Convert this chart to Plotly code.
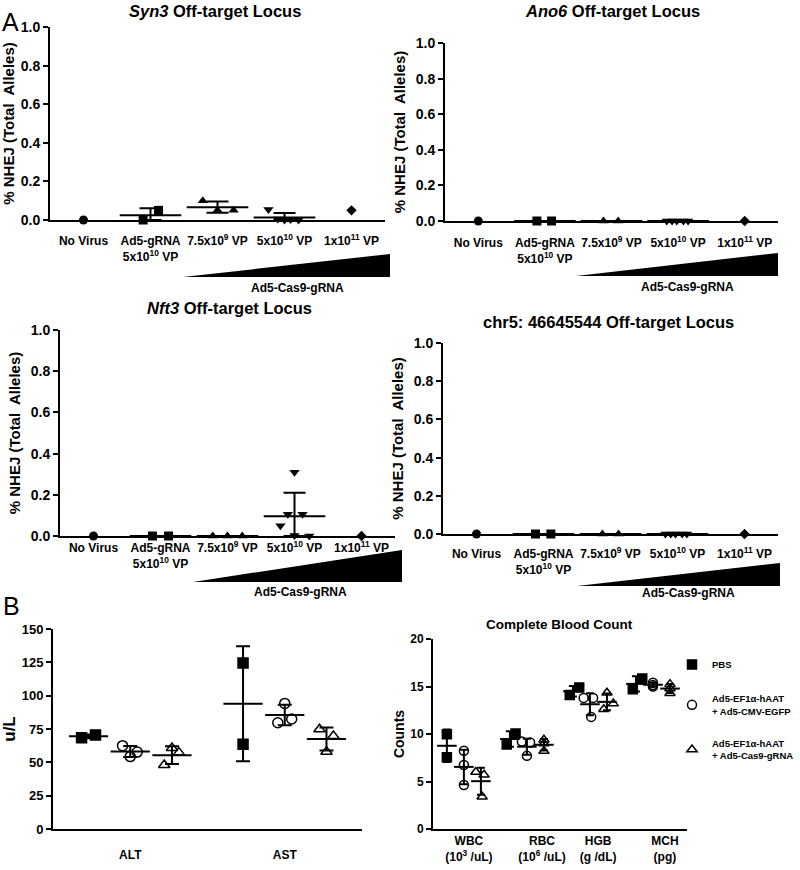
"""
Figure : NHEJ aux loci hors-cible (A) et biochimie / numération sanguine (B).
"""

import plotly.graph_objects as go
import numpy as np

W, H = 800, 870
FONT = "Liberation Sans, Arial, sans-serif"

# ---------------- Panneau A : % NHEJ ----------------
CATS_A = [
    "No Virus",
    "Ad5-gRNA<br>5x10<sup>10</sup> VP",
    "7.5x10<sup>9</sup> VP",
    "5x10<sup>10</sup> VP",
    "1x10<sup>11</sup> VP",
]
SYMB_A = ["circle", "square", "triangle-up", "triangle-down", "diamond"]

SYN3 = [[0.0], [0.0, 0.05], [0.10, 0.05, 0.05], [0.055, 0.005, 0.0, 0.003, 0.0], [0.05]]
ANO6 = [[0.0], [0.0, 0.0], [0.0, 0.0], [0.0, 0.0, 0.0, 0.0, 0.0], [0.0]]
NFT3 = [[0.0], [0.0, 0.0], [0.0, 0.0, 0.0], [0.31, 0.105, 0.105, 0.05, 0.003, 0.0], [0.0]]
CHR5 = [[0.0], [0.0, 0.0], [0.0, 0.0], [0.0, 0.0, 0.0, 0.0, 0.0], [0.0]]

# décalages horizontaux des points (dispersion visuelle)
JIT_SYN3 = [[0], [-0.11, 0.12], [-0.22, 0.0, 0.24], [-0.24, -0.1, 0.0, 0.09, 0.21], [0]]
JIT_ANO6 = [[0], [-0.12, 0.1], [-0.12, 0.1], [-0.17, -0.09, -0.02, 0.08, 0.15], [0]]
JIT_NFT3 = [[0], [-0.12, 0.12], [-0.22, 0.0, 0.22], [0.0, -0.1, 0.12, -0.21, 0.0, 0.22], [0]]
JIT_CHR5 = [[0], [-0.12, 0.11], [-0.12, 0.12], [-0.18, -0.1, -0.03, 0.07, 0.14], [0]]

# ---------------- Panneau B ----------------
GROUPS_B = ["PBS", "Ad5-EF1α-hAAT<br>+ Ad5-CMV-EGFP", "Ad5-EF1α-hAAT<br>+ Ad5-Cas9-gRNA"]
SYMB_B = ["square", "circle-open", "triangle-up-open"]

CATS_LIVER = ["ALT", "AST"]
LIVER_PBS = [[68.5, 70.5], [124.5, 63.5]]
LIVER_CMV = [[62.5, 54.3, 57.7], [79.7, 94.2, 82.5]]
LIVER_CAS9 = [[48.0, 60.8, 57.3], [74.8, 58.0, 69.7]]
JIT_LIVER = [
    [[-0.045, 0.045], [0.0, 0.0]],
    [[-0.05, 0.0, 0.045], [-0.045, 0.0, 0.045]],
    [[-0.05, 0.0, 0.045], [-0.045, 0.0, 0.045]],
]

CATS_CBC = ["WBC<br>(10<sup>3</sup> /uL)", "RBC<br>(10<sup>6</sup> /uL)", "HGB<br>(g /dL)", "MCH<br>(pg)"]
CBC_PBS = [[9.97, 7.55], [8.9, 10.05], [14.1, 14.9], [14.7, 15.85]]
CBC_CMV = [[8.24, 6.74, 4.63], [9.2, 9.1, 7.7], [13.8, 13.8, 11.8], [15.4, 15.15, 15.0]]
CBC_CAS9 = [[6.0, 5.7, 3.4], [9.4, 9.0, 8.2], [14.35, 13.2, 12.6], [15.25, 14.8, 14.3]]
JIT_CBC = [
    [[0, 0], [-0.05, 0.09], [-0.05, 0.1], [-0.05, 0.1]],
    [[0, 0, 0], [-0.08, 0.05, 0.0], [-0.1, 0.05, 0.02], [0, 0, 0]],
    [[-0.08, 0.05, 0.02], [0, 0, 0], [0.0, 0.1, -0.05], [0, 0, 0]],
]
CBC_TICKPOS = [0.08, 1.24, 2.13, 3.19]


def px(x):
    return x / W


def py(y):
    return 1 - y / H


def mean_sd(groups):
    m = [np.mean(g) for g in groups]
    s = [np.std(g, ddof=1) if len(g) > 1 else 0.0 for g in groups]
    return m, s


fig = go.Figure()


def add_panel_a(data, jit, ax):
    xa, ya = ("x" + ax, "y" + ax) if ax != "1" else ("x", "y")
    for i, (vals, off) in enumerate(zip(data, jit)):
        fig.add_trace(go.Scatter(
            x=[i + o for o in off], y=vals, mode="markers",
            marker=dict(symbol=SYMB_A[i], size=9 if i != 4 else 8, color="black"),
            xaxis=xa, yaxis=ya, showlegend=False, cliponaxis=False,
        ))
    # moyenne +/- ET, seulement pour n > 1
    idx = [i for i, g in enumerate(data) if len(g) > 1]
    m, s = mean_sd([data[i] for i in idx])
    fig.add_trace(go.Scatter(
        x=idx, y=m, mode="markers",
        marker=dict(symbol="line-ew", size=44, line=dict(width=2, color="black")),
        error_y=dict(type="data", array=s, arrayminus=[min(a, b) for a, b in zip(s, m)],
                     color="black", thickness=2, width=11),
        xaxis=xa, yaxis=ya, showlegend=False, cliponaxis=False,
    ))


add_panel_a(SYN3, JIT_SYN3, "1")
add_panel_a(ANO6, JIT_ANO6, "2")
add_panel_a(NFT3, JIT_NFT3, "3")
add_panel_a(CHR5, JIT_CHR5, "4")


def add_panel_b(sets, jits, ax, offset, size, mean_size, cap, legend):
    xa, ya = "x" + ax, "y" + ax
    for k, (groups, jit) in enumerate(zip(sets, jits)):
        xs, ys = [], []
        for i, (vals, off) in enumerate(zip(groups, jit)):
            xs += [i + offset[k] + o for o in off]
            ys += list(vals)
        fig.add_trace(go.Scatter(
            x=xs, y=ys, mode="markers", name=GROUPS_B[k],
            marker=dict(symbol=SYMB_B[k], size=size, color="black",
                        line=dict(width=1.5, color="black")),
            xaxis=xa, yaxis=ya, showlegend=legend, legendgroup=f"g{k}", cliponaxis=False,
        ))
    for k, groups in enumerate(sets):
        m, s = mean_sd(groups)
        fig.add_trace(go.Scatter(
            x=[i + offset[k] for i in range(len(groups))], y=m, mode="markers",
            marker=dict(symbol="line-ew", size=mean_size, line=dict(width=2, color="black")),
            error_y=dict(type="data", array=s, color="black", thickness=2, width=cap),
            xaxis=xa, yaxis=ya, showlegend=False, cliponaxis=False,
        ))


add_panel_b([LIVER_PBS, LIVER_CMV, LIVER_CAS9], JIT_LIVER, "5", [-0.27, 0.0, 0.27], 10, 28, 7, False)
add_panel_b([CBC_PBS, CBC_CMV, CBC_CAS9], JIT_CBC, "6", [-0.27, 0.0, 0.27], 9, 14, 4, True)

# ---------------- Axes ----------------
YAX = dict(showline=True, linecolor="black", linewidth=2, showgrid=False, zeroline=False,
           ticks="outside", ticklen=5, tickwidth=2, tickcolor="black",
           tickfont=dict(size=14, color="black", family=FONT, weight="bold"))
XAX = dict(showline=True, linecolor="black", linewidth=2, showgrid=False, zeroline=False,
           ticks="", tickfont=dict(size=12, color="black", family=FONT, weight="bold"))
YT_A = dict(text="% NHEJ (Total  Alleles)", font=dict(size=15, color="black", family=FONT, weight="bold"),
            standoff=6)

panels = {
    # axe : (x0, x1, ytop, ybottom) en pixels
    "1": (50, 385, 27, 220),
    "2": (445, 778, 43, 221),
    "3": (60, 395, 330, 536),
    "4": (443, 778, 343, 534),
    "5": (53, 362, 629, 829),
    "6": (433, 687, 639, 829),
}
LABEL_GAP_A = {"1": 9, "2": 10, "3": 0, "4": 8}

layout = {}
for ax, (x0, x1, yt, yb) in panels.items():
    kx = "xaxis" if ax == "1" else "xaxis" + ax
    ky = "yaxis" if ax == "1" else "yaxis" + ax
    anc_x = "x" if ax == "1" else "x" + ax
    anc_y = "y" if ax == "1" else "y" + ax
    layout[kx] = dict(XAX, domain=[px(x0), px(x1)], anchor=anc_y)
    layout[ky] = dict(YAX, domain=[py(yb), py(yt)], anchor=anc_x)
    if ax in LABEL_GAP_A:
        layout[kx].update(range=[-0.5, 4.5], tickvals=list(range(5)), ticktext=CATS_A,
                          ticklabelstandoff=LABEL_GAP_A[ax])
        layout[ky].update(range=[0, 1], dtick=0.2, tickformat=".1f", title=YT_A)

layout["xaxis5"].update(range=[-0.5, 1.5], tickvals=[0, 1], ticktext=CATS_LIVER, ticklabelstandoff=14)
layout["yaxis5"].update(range=[0, 150], dtick=25, tickfont=dict(size=13, color="black", family=FONT, weight="bold"),
                        title=dict(text="u/L", font=dict(size=17, color="black", family=FONT, weight="bold"),
                                   standoff=10))
layout["xaxis6"].update(range=[-0.49, 3.54], tickvals=CBC_TICKPOS, ticktext=CATS_CBC)
layout["yaxis6"].update(range=[0, 20], dtick=5, tickfont=dict(size=12, color="black", family=FONT, weight="bold"),
                        title=dict(text="Counts", font=dict(size=14, color="black", family=FONT, weight="bold"),
                                   standoff=2))

fig.update_layout(**layout)

# ---------------- Titres, lettres, triangles de dose ----------------
ann = []
titles = [
    ("<i>Syn3</i> Off-target Locus", 215, 11),
    ("<i>Ano6</i> Off-target Locus", 612, 11),
    ("<i>Nft3</i> Off-target Locus", 230, 308),
    ("chr5: 46645544 Off-target Locus", 608, 322),
]
for t, cx, cy in titles:
    ann.append(dict(text=t, x=px(cx), y=py(cy), xref="paper", yref="paper", showarrow=False,
                    xanchor="center", yanchor="middle",
                    font=dict(size=16.5, color="black", family=FONT, weight="bold")))
ann.append(dict(text="Complete Blood Count", x=px(559), y=py(624), xref="paper", yref="paper",
                xanchor="center", yanchor="middle", showarrow=False,
                font=dict(size=13.5, color="black", family=FONT, weight="bold")))
for letter, cx, cy in [("A", 10, 22), ("B", 11, 606)]:
    ann.append(dict(text=letter, x=px(cx), y=py(cy), xref="paper", yref="paper", showarrow=False,
                    xanchor="center", yanchor="middle",
                    font=dict(size=25, color="black", family=FONT)))

wedges = [
    # (x pointe, x droite, y haut droite, y bas, y label, x label)
    (183, 390, 254, 277, 288, 297),
    (576, 778, 253, 276, 287, 687),
    (193, 402, 550, 582, 592, 300),
    (577, 780, 563, 586, 593, 688),
]
shapes = []
for xt, xr, ytop, ybot, ylab, xlab in wedges:
    shapes.append(dict(
        type="path", xref="paper", yref="paper", layer="below",
        path=f"M {px(xt)},{py(ybot)} L {px(xr)},{py(ytop)} L {px(xr)},{py(ybot)} Z",
        fillcolor="black", line=dict(width=0),
    ))
    ann.append(dict(text="Ad5-Cas9-gRNA", x=px(xlab), y=py(ylab), xref="paper", yref="paper",
                    xanchor="center", yanchor="middle", showarrow=False,
                    font=dict(size=12, color="black", family=FONT, weight="bold")))

fig.update_layout(
    annotations=ann,
    shapes=shapes,
    width=W,
    height=H,
    margin=dict(l=0, r=0, t=0, b=0, autoexpand=False),
    plot_bgcolor="rgba(0,0,0,0)",
    paper_bgcolor="white",
    font=dict(family=FONT, color="black"),
    legend=dict(x=px(672), y=py(650), xanchor="left", yanchor="top", tracegroupgap=17,
                font=dict(size=9.5, color="black", family=FONT, weight="bold"),
                bgcolor="rgba(0,0,0,0)"),
)

# la page HTML a une marge de 8 px par défaut : on la supprime
fig.write_html("out.html", config={"displayModeBar": False},
               post_script="document.body.style.margin='0';")
